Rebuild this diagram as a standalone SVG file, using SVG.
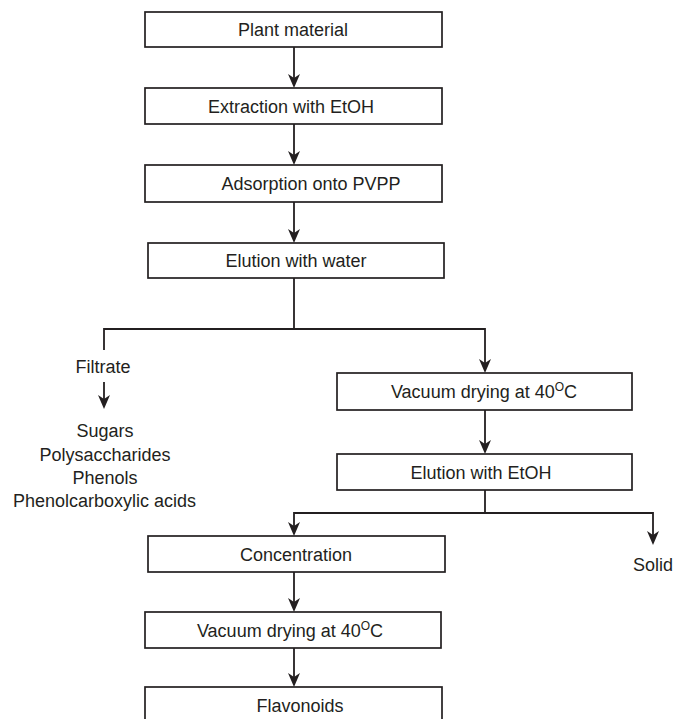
<svg xmlns="http://www.w3.org/2000/svg" width="673" height="719" viewBox="0 0 673 719">
<defs>
<style>
.box{fill:#ffffff;stroke:#231f20;stroke-width:1.7}
.lbl{font-family:"Liberation Sans",Arial,sans-serif;font-size:18px;fill:#231f20;text-anchor:middle}
.sup{font-size:12px}
.con{fill:none;stroke:#231f20;stroke-width:1.8}
</style>
<marker id="ah" markerUnits="userSpaceOnUse" markerWidth="15" markerHeight="12" refX="11" refY="6" orient="auto">
<path d="M0,0 L14,6 L0,12 L4,6 Z" fill="#231f20"/>
</marker>
</defs>
<rect width="673" height="719" fill="#ffffff"/>
<g id="connectors">
<path class="con" d="M294,47 V85" marker-end="url(#ah)"/>
<path class="con" d="M294,124 V162" marker-end="url(#ah)"/>
<path class="con" d="M294,202 V240" marker-end="url(#ah)"/>
<path class="con" d="M294,278 V329"/>
<path class="con" d="M104,350 V329 H485 V370" marker-end="url(#ah)"/>
<path class="con" d="M104,382 V406" marker-end="url(#ah)"/>
<path class="con" d="M485,410 V451" marker-end="url(#ah)"/>
<path class="con" d="M485,490 V513"/>
<path class="con" d="M485,513 H294 V533" marker-end="url(#ah)"/>
<path class="con" d="M485,513 H653 V542" marker-end="url(#ah)"/>
<path class="con" d="M294,572 V609" marker-end="url(#ah)"/>
<path class="con" d="M294,648 V684" marker-end="url(#ah)"/>
</g>
<g id="plant"><rect class="box" x="145" y="12" width="297" height="35"/><text class="lbl" x="293" y="36">Plant material</text></g>
<g id="extraction"><rect class="box" x="145" y="88" width="297" height="36"/><text class="lbl" x="291" y="112.5">Extraction with EtOH</text></g>
<g id="adsorption"><rect class="box" x="145" y="165" width="297" height="37"/><text class="lbl" x="311" y="190">Adsorption onto PVPP</text></g>
<g id="elution-water"><rect class="box" x="148" y="243" width="296" height="35"/><text class="lbl" x="296" y="267">Elution with water</text></g>
<g id="filtrate"><text class="lbl" x="103" y="373">Filtrate</text></g>
<g id="filtrate-contents">
<text class="lbl" x="105" y="437">Sugars</text>
<text class="lbl" x="105" y="460.5">Polysaccharides</text>
<text class="lbl" x="105" y="484">Phenols</text>
<text class="lbl" x="104.5" y="507">Phenolcarboxylic acids</text>
</g>
<g id="vacuum1"><rect class="box" x="337" y="373" width="295" height="37"/><text class="lbl" x="484" y="398">Vacuum drying at 40<tspan class="sup" dy="-7">O</tspan><tspan dy="7">C</tspan></text></g>
<g id="elution-etoh"><rect class="box" x="337" y="454" width="295" height="36"/><text class="lbl" x="481" y="478.5">Elution with EtOH</text></g>
<g id="solid"><text class="lbl" x="653" y="571">Solid</text></g>
<g id="concentration"><rect class="box" x="148" y="536" width="297" height="36"/><text class="lbl" x="296" y="560.5">Concentration</text></g>
<g id="vacuum2"><rect class="box" x="145" y="612" width="296" height="36"/><text class="lbl" x="290" y="636.5">Vacuum drying at 40<tspan class="sup" dy="-7">O</tspan><tspan dy="7">C</tspan></text></g>
<g id="flavonoids"><rect class="box" x="145" y="687" width="297" height="45"/><text class="lbl" x="300" y="712">Flavonoids</text></g>
</svg>
